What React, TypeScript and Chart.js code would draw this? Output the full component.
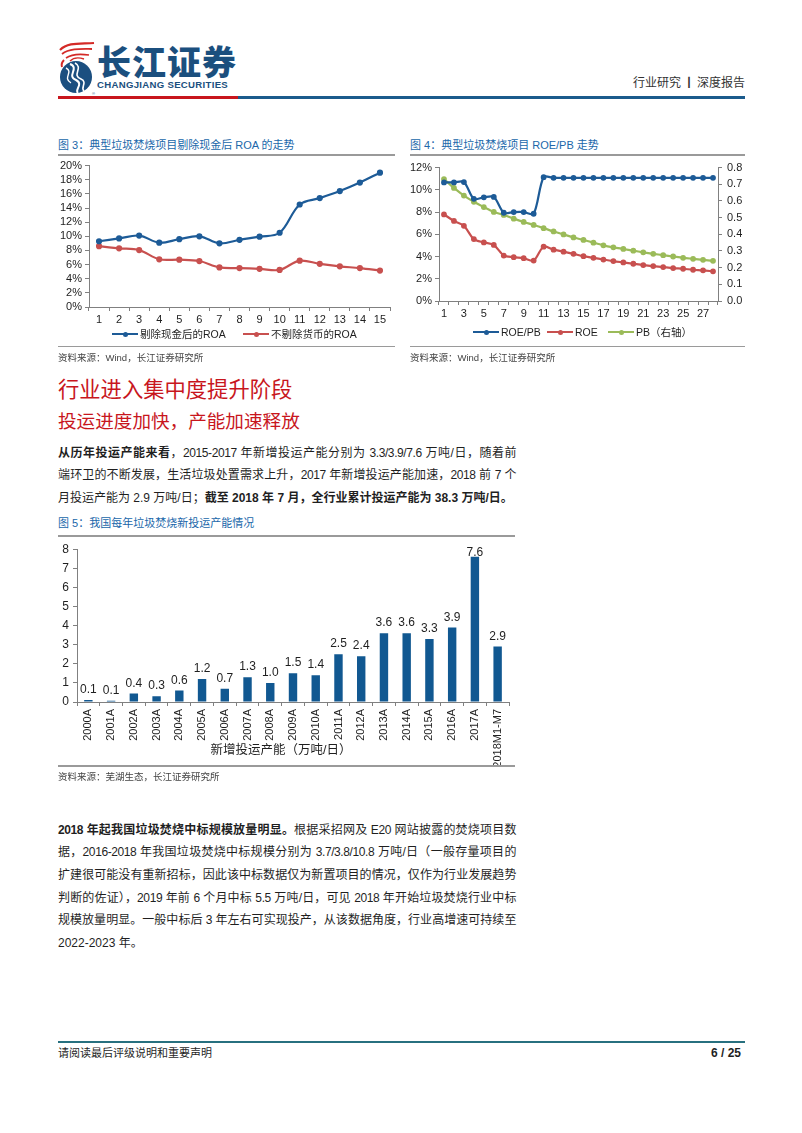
import React, { useEffect, useRef } from "react";
import { Chart, registerables } from "chart.js";

Chart.register(...registerables);

// ---------- DATA ----------
const roaPeriods = ["1", "2", "3", "4", "5", "6", "7", "8", "9", "10", "11", "12", "13", "14", "15"];
const roaExCash = [9.3, 9.7, 10.1, 9.1, 9.6, 10.0, 9.0, 9.5, 9.95, 10.5, 14.5, 15.4, 16.4, 17.6, 19.0];
const roaAll = [8.6, 8.3, 8.05, 6.75, 6.7, 6.5, 5.6, 5.5, 5.4, 5.25, 6.55, 6.1, 5.75, 5.5, 5.15];
const roaTicks = [0, 2, 4, 6, 8, 10, 12, 14, 16, 18, 20];

const roePeriods = ["1", "2", "3", "4", "5", "6", "7", "8", "9", "10", "11", "12", "13", "14",
  "15", "16", "17", "18", "19", "20", "21", "22", "23", "24", "25", "26", "27", "28"];
const roeOverPb = [10.67, 10.67, 10.7, 9.19, 9.33, 9.36, 7.94, 8.0, 8.0, 7.85, 11.14, 11.08, 11.08, 11.08,
  11.08, 11.08, 11.08, 11.08, 11.08, 11.08, 11.08, 11.08, 11.08, 11.08, 11.08, 11.08, 11.08, 11.08];
const roeValues = [7.79, 7.2, 6.76, 5.57, 5.27, 5.04, 4.09, 3.94, 3.85, 3.64, 4.89, 4.62, 4.44, 4.24,
  4.03, 3.88, 3.73, 3.59, 3.47, 3.35, 3.23, 3.14, 3.05, 2.96, 2.9, 2.81, 2.76, 2.67];
const pbValues = [0.731, 0.678, 0.632, 0.595, 0.563, 0.534, 0.516, 0.494, 0.474, 0.456, 0.437, 0.417, 0.399, 0.381,
  0.366, 0.35, 0.334, 0.322, 0.312, 0.302, 0.292, 0.283, 0.275, 0.267, 0.259, 0.253, 0.247, 0.241];

const capYears = ["2000A", "2001A", "2002A", "2003A", "2004A", "2005A", "2006A", "2007A", "2008A", "2009A",
  "2010A", "2011A", "2012A", "2013A", "2014A", "2015A", "2016A", "2017A", "2018M1-M7"];
const capValues = [0.1, 0.06, 0.44, 0.3, 0.6, 1.2, 0.7, 1.3, 1.0, 1.5, 1.4, 2.5, 2.4, 3.6, 3.6, 3.3, 3.9, 7.6, 2.9];

// ---------- STYLE ----------
const FONT = '"Liberation Sans", Arial, "Noto Sans CJK SC", sans-serif';
const BLUE = "#1d5b97";
const RED = "#c8504f";
const GREEN = "#9bbb59";
const BAR = "#115891";
const AXIS = "#808080";
const TXT = "#1f1f1f";
const TITLE_BLUE = "#2067aa";
const HEAD_RED = "#c8161d";

const tickFont = { family: FONT, size: 11 };

const barLabelPlugin = {
  id: "barLabels",
  afterDatasetsDraw(chart: any) {
    const ctx = chart.ctx;
    const meta = chart.getDatasetMeta(0);
    const data = chart.data.datasets[0].data as number[];
    ctx.save();
    ctx.font = `12px ${FONT}`;
    ctx.fillStyle = TXT;
    ctx.textAlign = "center";
    ctx.textBaseline = "alphabetic";
    meta.data.forEach((el: any, i: number) => {
      const y = Math.max(el.y - 7, chart.chartArea.top + 7);
      ctx.fillText(data[i].toFixed(1), el.x, y);
    });
    ctx.restore();
  },
};

function useChart(build: (c: HTMLCanvasElement) => Chart) {
  const ref = useRef<HTMLCanvasElement>(null);
  useEffect(() => {
    if (!ref.current) return;
    const ch = build(ref.current);
    return () => ch.destroy();
  }, []);
  return ref;
}

function RoaChart() {
  const ref = useChart((c) =>
    new Chart(c, {
      type: "line",
      data: {
        labels: roaPeriods,
        datasets: [
          { label: "剔除现金后的ROA", data: roaExCash, borderColor: BLUE, backgroundColor: BLUE, borderWidth: 2.2, pointRadius: 2, pointHoverRadius: 2, tension: 0.35 },
          { label: "不剔除货币的ROA", data: roaAll, borderColor: RED, backgroundColor: RED, borderWidth: 2.2, pointRadius: 2, pointHoverRadius: 2, tension: 0.35 },
        ],
      },
      options: {
        animation: false,
        responsive: false,
        layout: { padding: { top: 8, right: 8, left: 0, bottom: 0 } },
        plugins: { legend: { display: false }, tooltip: { enabled: false } },
        scales: {
          x: {
            offset: true,
            grid: { offset: true, drawOnChartArea: false, tickLength: 4, color: AXIS },
            border: { color: AXIS },
            ticks: { font: tickFont, color: TXT, padding: 2, autoSkip: false, maxRotation: 0 },
            afterFit: (s: any) => { s.height = 21; },
          },
          y: {
            min: 0, max: 20,
            afterBuildTicks: (s: any) => { s.ticks = roaTicks.map((v) => ({ value: v })); },
            ticks: { font: tickFont, color: TXT, padding: 3, autoSkip: false, callback: (v: any) => v + "%" },
            grid: { drawOnChartArea: false, tickLength: 4, color: AXIS },
            border: { color: AXIS },
            afterFit: (s: any) => { s.width = 31; },
          },
        },
      },
    } as any)
  );
  return <canvas ref={ref} width={340} height={172} style={{ position: "absolute", left: 58, top: 156 }} />;
}

function RoeChart() {
  const ref = useChart((c) =>
    new Chart(c, {
      type: "line",
      data: {
        labels: roePeriods,
        datasets: [
          { label: "ROE/PB", data: roeOverPb, yAxisID: "y", borderColor: BLUE, backgroundColor: BLUE, borderWidth: 2.2, pointRadius: 1.8, pointHoverRadius: 2, tension: 0.3 },
          { label: "ROE", data: roeValues, yAxisID: "y", borderColor: RED, backgroundColor: RED, borderWidth: 2.2, pointRadius: 1.8, pointHoverRadius: 2, tension: 0.3 },
          { label: "PB（右轴）", data: pbValues, yAxisID: "y1", borderColor: GREEN, backgroundColor: GREEN, borderWidth: 2.2, pointRadius: 1.8, pointHoverRadius: 2, tension: 0.3 },
        ],
      },
      options: {
        animation: false,
        responsive: false,
        layout: { padding: { top: 10, right: 0, left: 0, bottom: 0 } },
        plugins: { legend: { display: false }, tooltip: { enabled: false } },
        scales: {
          x: {
            offset: true,
            grid: { offset: true, drawOnChartArea: false, tickLength: 4, color: AXIS },
            border: { color: AXIS },
            ticks: {
              font: tickFont, color: TXT, padding: 2, autoSkip: false, maxRotation: 0,
              callback: function (this: any, v: any, i: number) { return i % 2 === 0 ? this.getLabelForValue(v) : ""; },
            },
            afterFit: (s: any) => { s.height = 21; },
          },
          y: {
            position: "left",
            min: 0, max: 12,
            ticks: { stepSize: 2, autoSkip: false, font: tickFont, color: TXT, padding: 3, callback: (v: any) => v + "%" },
            grid: { drawOnChartArea: false, tickLength: 4, color: AXIS },
            border: { color: AXIS },
            afterFit: (s: any) => { s.width = 29; },
          },
          y1: {
            position: "right",
            min: 0, max: 0.8,
            ticks: { stepSize: 0.1, autoSkip: false, font: tickFont, color: TXT, padding: 5, callback: (v: any) => Number(v).toFixed(1) },
            grid: { drawOnChartArea: false, tickLength: 4, color: AXIS },
            border: { color: AXIS },
            afterFit: (s: any) => { s.width = 32; },
          },
        },
      },
    } as any)
  );
  return <canvas ref={ref} width={340} height={166} style={{ position: "absolute", left: 410, top: 156 }} />;
}

function CapChart() {
  const ref = useChart((c) =>
    new Chart(c, {
      type: "bar",
      data: {
        labels: capYears,
        datasets: [{ label: "新增投运产能（万吨/日）", data: capValues, backgroundColor: BAR, categoryPercentage: 1, barPercentage: 0.37 }],
      },
      options: {
        animation: false,
        responsive: false,
        layout: { padding: { top: 7, right: 6, left: 0, bottom: 0 } },
        plugins: { legend: { display: false }, tooltip: { enabled: false } },
        scales: {
          x: {
            grid: { offset: true, drawOnChartArea: false, tickLength: 4, color: AXIS },
            border: { color: AXIS },
            ticks: { font: tickFont, color: TXT, padding: 3, autoSkip: false, minRotation: 90, maxRotation: 90 },
            afterFit: (s: any) => { s.height = 64; },
          },
          y: {
            min: 0, max: 8,
            ticks: { stepSize: 1, autoSkip: false, font: { family: FONT, size: 12 }, color: TXT, padding: 4 },
            grid: { drawOnChartArea: false, tickLength: 4, color: AXIS },
            border: { color: AXIS },
            afterFit: (s: any) => { s.width = 19; },
          },
        },
      },
      plugins: [barLabelPlugin],
    } as any)
  );
  return <canvas ref={ref} width={457} height={228} style={{ position: "absolute", left: 58, top: 538 }} />;
}

// ---------- TEXT HELPERS ----------
function Txt(props: { x: number; y: number; size: number; color?: string; bold?: boolean; right?: boolean; children: any; w?: number; justify?: boolean }) {
  const lh = Math.round(props.size * 1.4);
  const style: any = {
    position: "absolute",
    top: props.y - lh / 2,
    lineHeight: lh + "px",
    fontSize: props.size,
    color: props.color || TXT,
    fontWeight: props.bold ? 700 : 400,
    fontFamily: FONT,
    whiteSpace: props.justify ? "normal" : "nowrap",
  };
  if (props.right) style.right = 802 - props.x;
  else style.left = props.x;
  if (props.w) style.width = props.w;
  if (props.justify) {
    style.textAlign = "justify";
    style.textAlignLast = "justify";
    style.textJustify = "inter-character";
    style.letterSpacing = "-0.4px";
  }
  return <div style={style}>{props.children}</div>;
}

function Rule({ x1, x2, y, color, h }: { x1: number; x2: number; y: number; color: string; h: number }) {
  return <div style={{ position: "absolute", left: x1, top: y - h / 2, width: x2 - x1, height: h, background: color }} />;
}

function LegendItem({ x, y, color, label }: { x: number; y: number; color: string; label: string }) {
  return (
    <>
      <div style={{ position: "absolute", left: x, top: y - 1, width: 26, height: 2.2, background: color }} />
      <div style={{ position: "absolute", left: x + 11, top: y - 2.5, width: 5, height: 5, borderRadius: 3, background: color }} />
      <Txt x={x + 28} y={y} size={10.5}>{label}</Txt>
    </>
  );
}

function Logo() {
  return (
    <svg style={{ position: "absolute", left: 56, top: 40 }} width={42} height={56} viewBox="0 0 42 56">
      <path d="M4 10 C12 2, 24 4, 38 3" stroke="#d42a27" strokeWidth={2.2} fill="none" />
      <path d="M6 14 C14 8, 26 9, 36 9" stroke="#d42a27" strokeWidth={1.8} fill="none" />
      <path d="M10 18 C17 13, 26 14, 33 15" stroke="#d42a27" strokeWidth={1.6} fill="none" />
      <path d="M14 21 C18 17, 22 17, 28 19" stroke="#d42a27" strokeWidth={1.4} fill="none" />
      <circle cx={20} cy={37} r={16} fill="#1b4f80" />
      <path d="M14 24 C24 28, 10 36, 20 40 C28 44, 18 50, 22 53" stroke="#fff" strokeWidth={2} fill="none" />
      <path d="M19 23 C28 28, 15 35, 25 39 C32 42, 24 48, 28 51" stroke="#fff" strokeWidth={1.6} fill="none" />
      <path d="M10 28 C18 32, 6 38, 15 43" stroke="#fff" strokeWidth={1.4} fill="none" />
      <path d="M8 20 C6 22, 5 24, 6 27" stroke="#d42a27" strokeWidth={2} fill="none" />
      <text x={36} y={55} fontSize={4} fill="#1b4f80" fontFamily={FONT}>®</text>
    </svg>
  );
}

export default function App() {
  const p1y = [453, 475.5, 498];
  const p2y = [830, 852.7, 875.4, 898.1, 920.8, 943.5];
  return (
    <div style={{ position: "absolute", left: 0, top: 0, width: 802, height: 1133, background: "#fff", overflow: "hidden", fontFamily: FONT }}>
      {/* header */}
      <Logo />
      <div style={{ position: "absolute", left: 97, top: 41, fontSize: 34, lineHeight: "40px", fontWeight: 900, color: "#1b4f7e", fontFamily: '"Noto Sans CJK SC", sans-serif', letterSpacing: 1 }}>长江证券</div>
      <div style={{ position: "absolute", left: 97, top: 79, fontSize: 9.6, lineHeight: "11px", fontWeight: 700, color: "#1b4f7e", fontFamily: FONT, letterSpacing: 0.3 }}>CHANGJIANG SECURITIES</div>
      <Txt x={745} y={83} size={12} right color="#333">行业研究<b style={{ margin: "0 2px" }}>丨</b>深度报告</Txt>
      <Rule x1={58} x2={238} y={97.5} color="#c8161d" h={3} />
      <Rule x1={238} x2={745} y={97.5} color="#1b5b8c" h={3} />

      {/* Figure 3 */}
      <Txt x={58} y={145} size={11} color={TITLE_BLUE}>图 3：典型垃圾焚烧项目剔除现金后 ROA 的走势</Txt>
      <Rule x1={58} x2={395} y={155} color="#9a9a9a" h={1.2} />
      <RoaChart />
      <LegendItem x={112} y={334} color={BLUE} label="剔除现金后的ROA" />
      <LegendItem x={243} y={334} color={RED} label="不剔除货币的ROA" />
      <Rule x1={58} x2={395} y={346.5} color="#9a9a9a" h={1.2} />
      <Txt x={58} y={357} size={9.5} color="#444">资料来源：Wind，长江证券研究所</Txt>

      {/* Figure 4 */}
      <Txt x={410} y={145} size={11} color={TITLE_BLUE}>图 4：典型垃圾焚烧项目 ROE/PB 走势</Txt>
      <Rule x1={410} x2={745} y={155} color="#9a9a9a" h={1.2} />
      <RoeChart />
      <LegendItem x={473} y={332} color={BLUE} label="ROE/PB" />
      <LegendItem x={547} y={332} color={RED} label="ROE" />
      <LegendItem x={608} y={332} color={GREEN} label="PB（右轴）" />
      <Rule x1={410} x2={745} y={346.5} color="#9a9a9a" h={1.2} />
      <Txt x={410} y={357} size={9.5} color="#444">资料来源：Wind，长江证券研究所</Txt>

      {/* headings */}
      <Txt x={58} y={390} size={21.3} color={HEAD_RED}>行业进入集中度提升阶段</Txt>
      <Txt x={58} y={422} size={18.6} color={HEAD_RED}>投运进度加快，产能加速释放</Txt>

      {/* paragraph 1 */}
      <Txt x={58} y={p1y[0]} size={12} w={458} justify><b>从历年投运产能来看</b>，2015-2017 年新增投运产能分别为 3.3/3.9/7.6 万吨/日，随着前</Txt>
      <Txt x={58} y={p1y[1]} size={12} w={458} justify>端环卫的不断发展，生活垃圾处置需求上升，2017 年新增投运产能加速，2018 前 7 个</Txt>
      <Txt x={58} y={p1y[2]} size={12}>月投运产能为 2.9 万吨/日；<b>截至 2018 年 7 月，全行业累计投运产能为 38.3 万吨/日。</b></Txt>

      {/* Figure 5 */}
      <Txt x={58} y={523} size={11} color={TITLE_BLUE}>图 5：我国每年垃圾焚烧新投运产能情况</Txt>
      <Rule x1={58} x2={515} y={536} color="#9a9a9a" h={1.2} />
      <CapChart />
      <div style={{ position: "absolute", left: 181, width: 200, top: 741, lineHeight: "18px", textAlign: "center", fontSize: 12.5, fontFamily: FONT, color: TXT }}>新增投运产能（万吨/日）</div>
      <Rule x1={58} x2={515} y={766} color="#9a9a9a" h={1.2} />
      <Txt x={58} y={776} size={9.5} color="#444">资料来源：芜湖生态，长江证券研究所</Txt>

      {/* paragraph 2 */}
      <Txt x={58} y={p2y[0]} size={12} w={458} justify><b>2018 年起我国垃圾焚烧中标规模放量明显。</b>根据采招网及 E20 网站披露的焚烧项目数</Txt>
      <Txt x={58} y={p2y[1]} size={12} w={458} justify>据，2016-2018 年我国垃圾焚烧中标规模分别为 3.7/3.8/10.8 万吨/日（一般存量项目的</Txt>
      <Txt x={58} y={p2y[2]} size={12} w={458} justify>扩建很可能没有重新招标，因此该中标数据仅为新置项目的情况，仅作为行业发展趋势</Txt>
      <Txt x={58} y={p2y[3]} size={12} w={458} justify>判断的佐证），2019 年前 6 个月中标 5.5 万吨/日，可见 2018 年开始垃圾焚烧行业中标</Txt>
      <Txt x={58} y={p2y[4]} size={12} w={458} justify>规模放量明显。一般中标后 3 年左右可实现投产，从该数据角度，行业高增速可持续至</Txt>
      <Txt x={58} y={p2y[5]} size={12}>2022-2023 年。</Txt>

      {/* footer */}
      <Rule x1={58} x2={745} y={1042} color="#27707f" h={1.5} />
      <Txt x={58} y={1053} size={11}>请阅读最后评级说明和重要声明</Txt>
      <Txt x={741} y={1053} size={12} right bold>6 / 25</Txt>
    </div>
  );
}
